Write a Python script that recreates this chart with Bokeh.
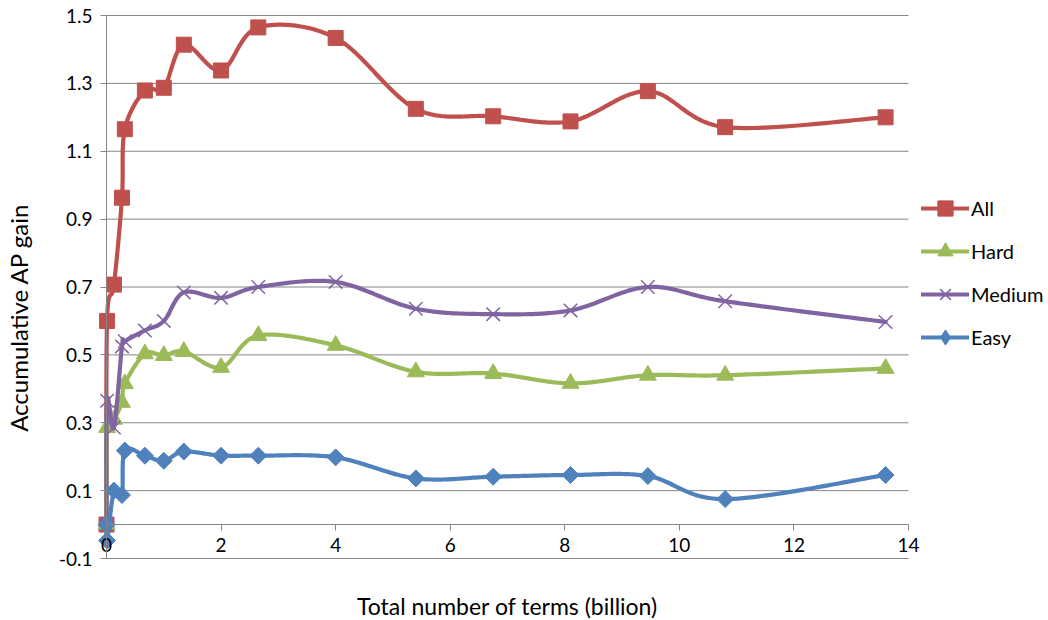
import numpy as np
from bokeh.plotting import figure
from bokeh.models import FixedTicker, PrintfTickFormatter, Legend, LegendItem, Label
from bokeh.embed import file_html
from bokeh.resources import INLINE

# Total number of terms (billion) at each measurement
terms = [0.0, 0.01, 0.13, 0.27, 0.32, 0.67, 1.0, 1.35, 2.0, 2.65,
         4.0, 5.4, 6.75, 8.1, 9.45, 10.8, 13.6]

# Accumulative AP gain per query group
gain_all = [0.0, 0.60, 0.707, 0.963, 1.165, 1.279, 1.287, 1.414, 1.338, 1.465,
            1.434, 1.225, 1.203, 1.188, 1.277, 1.171, 1.200]
gain_hard = [0.0, 0.286, 0.31, 0.36, 0.415, 0.503, 0.498, 0.510, 0.463, 0.557,
             0.528, 0.450, 0.445, 0.416, 0.440, 0.440, 0.460]
gain_medium = [0.0, 0.365, 0.286, 0.525, 0.54, 0.572, 0.600, 0.684, 0.668, 0.700,
               0.715, 0.636, 0.620, 0.631, 0.700, 0.658, 0.597]
gain_easy = [0.0, -0.047, 0.10, 0.087, 0.218, 0.203, 0.188, 0.215, 0.203, 0.203,
             0.198, 0.136, 0.141, 0.146, 0.143, 0.075, 0.146]

x_ticks = [0, 2, 4, 6, 8, 10, 12, 14]
y_ticks = [-0.1, 0.1, 0.3, 0.5, 0.7, 0.9, 1.1, 1.3, 1.5]

FONT = "Lato"
GRID = "#868686"

# Canvas layout (pixels): plot area spans x 106..908, y 15..558 of a 1048x620 page.
W, H = 1048, 620
PL, PR, PT, PB = 106, 908, 15, 558
x_lo, x_hi = x_ticks[0], x_ticks[-1]
y_lo, y_hi = y_ticks[0], y_ticks[-1]
kx = (PR - PL) / (x_hi - x_lo)
ky = (PB - PT) / (y_hi - y_lo)
x_range = (x_lo - PL / kx, x_hi + (W - PR) / kx)
y_range = (y_lo - (H - PB) / ky, y_hi + PT / ky)


def smooth(xs, ys, steps=32):
    """Cubic Bezier smoothing through every point (Catmull-Rom tangents)."""
    pts = np.column_stack([xs, ys]).astype(float)
    ext = np.vstack([pts[0], pts, pts[-1]])
    t = np.linspace(0.0, 1.0, steps)[:, None]
    parts = []
    for i in range(len(pts) - 1):
        p0, p1, p2, p3 = ext[i], ext[i + 1], ext[i + 2], ext[i + 3]
        c1 = p1 + (p2 - p0) / 6.0
        c2 = p2 - (p3 - p1) / 6.0
        seg = ((1 - t) ** 3) * p1 + 3 * ((1 - t) ** 2) * t * c1 \
            + 3 * (1 - t) * (t ** 2) * c2 + (t ** 3) * p2
        parts.append(seg if i == 0 else seg[1:])
    arr = np.vstack(parts)
    return arr[:, 0], arr[:, 1]


p = figure(width=W, height=H, x_range=x_range, y_range=y_range,
           output_backend="svg", toolbar_location=None,
           min_border=0)
p.outline_line_color = None
p.background_fill_color = "white"
p.border_fill_color = "white"
p.xgrid.grid_line_color = None
p.ygrid.grid_line_color = None

# horizontal gridlines across the plot area
p.segment(x0=x_lo, x1=x_hi, y0=y_ticks, y1=y_ticks, line_color=GRID, line_width=1)

# axes: value axis at x=0, category axis crossing at y=0
p.xaxis.fixed_location = 0
p.xaxis.bounds = (x_lo, x_hi)
p.xaxis.ticker = FixedTicker(ticks=x_ticks)
p.yaxis.fixed_location = 0
p.yaxis.bounds = (y_lo, y_hi)
p.yaxis.ticker = FixedTicker(ticks=y_ticks)
p.yaxis.formatter = PrintfTickFormatter(format="%.1f")
for ax in (p.xaxis, p.yaxis):
    ax.axis_line_color = GRID
    ax.axis_line_width = 1
    ax.major_tick_line_color = GRID
    ax.major_tick_in = 0
    ax.major_tick_out = 6
    ax.minor_tick_line_color = None
    ax.major_label_text_font = FONT
    ax.major_label_text_font_size = "19px"
    ax.major_label_text_color = "black"
p.xaxis.major_label_standoff = 7
p.yaxis.major_label_standoff = 8

series = [
    ("All", gain_all, "#C0504D", "square", 15),
    ("Hard", gain_hard, "#9BBB59", "triangle", 17),
    ("Medium", gain_medium, "#8064A2", "x", 19),
    ("Easy", gain_easy, "#4F81BD", "diamond", 12),
]

items = []
for name, vals, color, marker, size in series:
    sx, sy = smooth(terms, vals)
    lr = p.line(sx, sy, line_color=color, line_width=4.2, line_join="round", line_cap="round")
    if marker == "x":
        sr = p.scatter(terms, vals, marker="x", size=size, line_color=color,
                       line_width=1.5)
        key = [lr, sr]
    elif marker == "diamond":
        # rhombus drawn as a square turned by 45 degrees
        sr = p.scatter(terms, vals, marker="square", size=size, angle=np.pi / 4,
                       fill_color=color, line_color=color, line_width=1)
        key_marker = p.scatter(terms, vals, marker="diamond", size=size,
                               fill_color=color, line_color=color, visible=False)
        key = [lr, key_marker]
    else:
        sr = p.scatter(terms, vals, marker=marker, size=size,
                       fill_color=color, line_color=color, line_width=1)
        key = [lr, sr]
    items.append(LegendItem(label=name, renderers=key))

legend = Legend(items=items, location=(921, H - 356), orientation="vertical",
                glyph_width=48, glyph_height=38, label_height=38, spacing=5,
                label_standoff=2, padding=0, margin=0,
                label_text_font=FONT, label_text_font_size="20px",
                label_text_color="black",
                border_line_color=None, background_fill_alpha=0)
p.add_layout(legend, "center")

p.add_layout(Label(x=x_lo, y=0.61, x_offset=-88, text="Accumulative AP gain",
                   angle=np.pi / 2, text_align="center", text_baseline="middle",
                   text_font=FONT, text_font_size="24px", text_color="black"))
p.add_layout(Label(x=(x_lo + x_hi) / 2, y=y_lo, y_offset=-47,
                   text="Total number of terms (billion)",
                   text_align="center", text_baseline="middle",
                   text_font=FONT, text_font_size="23px", text_color="black"))

open("out.html", "w").write(file_html(p, INLINE))
